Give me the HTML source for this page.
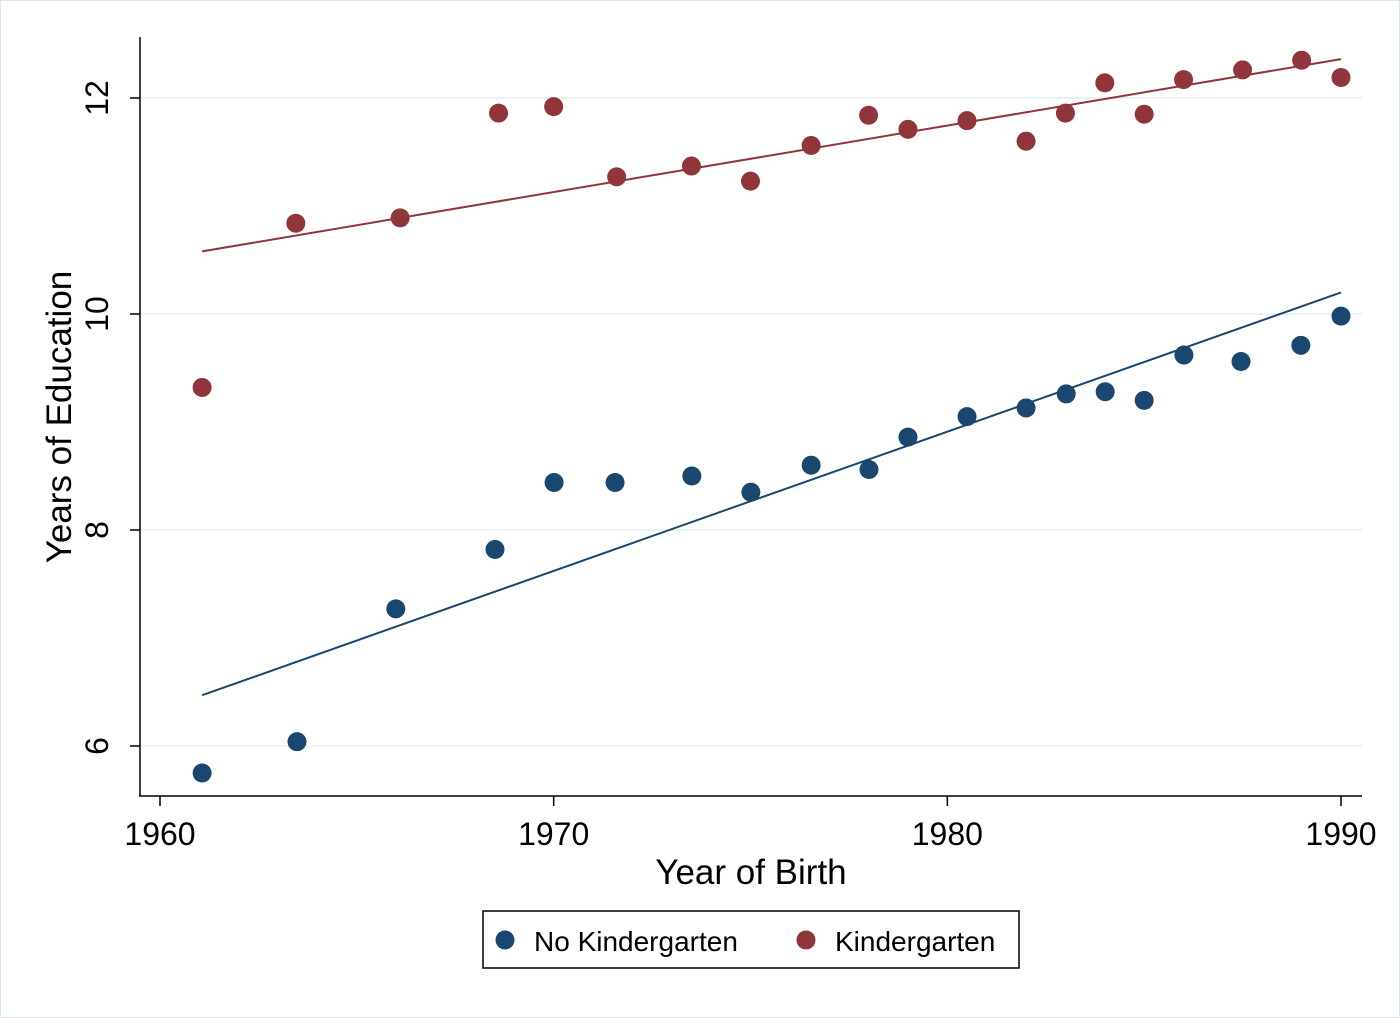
<!DOCTYPE html>
<html><head><meta charset="utf-8"><style>
body{margin:0;background:#fff}
svg{display:block;font-family:"Liberation Sans",sans-serif}
</style></head><body>
<svg id="chart" width="1400" height="1018" xmlns="http://www.w3.org/2000/svg">
<rect x="0.5" y="0.5" width="1399" height="1017" fill="#fff" stroke="#dde6ea"/>
<g id="grid"></g><g id="axes"></g><g id="marks"></g>
<g>
<rect x="483" y="911" width="536" height="57" fill="#fff" stroke="#000" stroke-width="1.5"/>
<circle cx="505" cy="940" r="9.5" fill="#1a476f"/>
<text x="534" y="951" font-size="28">No Kindergarten</text>
<circle cx="806" cy="940" r="9.5" fill="#90353b"/>
<text x="835" y="951" font-size="28">Kindergarten</text>
</g>
</svg>
<script>
const years=[1961.07,1963.48,1965.99,1968.51,1970.01,1971.56,1973.51,1975.01,1976.54,1978.01,1979.0,1980.5,1982.0,1983.02,1984.01,1985.0,1986.01,1987.46,1988.98,1990.0];
const yearsK=[1961.07,1963.45,1966.1,1968.6,1970.0,1971.6,1973.5,1975.0,1976.54,1978.0,1979.0,1980.5,1982.0,1983.0,1984.0,1985.0,1986.0,1987.5,1989.0,1990.0];
const noKinder=[5.75,6.04,7.27,7.82,8.44,8.44,8.50,8.35,8.60,8.56,8.86,9.05,9.13,9.26,9.28,9.20,9.62,9.56,9.71,9.98];
const kinder=[9.32,10.84,10.89,11.86,11.92,11.27,11.37,11.23,11.56,11.84,11.71,11.79,11.60,11.86,12.14,11.85,12.17,12.26,12.35,12.19];
const fitX=[1961.07,1990.0];
const fitNoKinder=[6.47,10.20];
const fitKinder=[10.58,12.36];
const xTicks=[1960,1970,1980,1990];
const yTicks=[6,8,10,12];
const NS="http://www.w3.org/2000/svg";
const X=v=>160+(v-1960)*(1181/30);
const Y=v=>98+(12-v)*108;
function mk(p,tag,attrs){const e=document.createElementNS(NS,tag);for(const k in attrs)e.setAttribute(k,attrs[k]);document.getElementById(p).appendChild(e);return e;}
yTicks.forEach(t=>{
 const g=mk('grid','line',{x1:140,x2:1362,y1:Y(t),y2:Y(t),stroke:'#eaf2f3','stroke-width':2});
 
 
 const tk=mk('axes','line',{x1:130,x2:140,y1:Y(t),y2:Y(t),stroke:'#000','stroke-width':1.5});
 
 
 const lb=mk('axes','text',{x:0,y:0,'font-size':32,'text-anchor':'middle',transform:`translate(108,${Y(t)}) rotate(-90)`});
 lb.textContent=t;
 
 
});
xTicks.forEach(t=>{
 const tk=mk('axes','line',{x1:X(t),x2:X(t),y1:796,y2:806,stroke:'#000','stroke-width':1.5});
 
 
 const lb=mk('axes','text',{x:X(t),y:845,'font-size':32,'text-anchor':'middle'});
 lb.textContent=t;
 
 
});
let a=mk('axes','line',{x1:140,x2:140,y1:37,y2:796,stroke:'#000','stroke-width':1.5});


a=mk('axes','line',{x1:139,x2:1362,y1:796,y2:796,stroke:'#000','stroke-width':1.5});


let tt=mk('axes','text',{x:751,y:884,'font-size':35,'text-anchor':'middle'});
tt.textContent='Year of Birth';


tt=mk('axes','text',{x:0,y:0,'font-size':35,'text-anchor':'middle',transform:'translate(71,417) rotate(-90)'});
tt.textContent='Years of Education';


let f=mk('marks','line',{x1:X(fitX[0]),x2:X(fitX[1]),y1:Y(fitNoKinder[0]),y2:Y(fitNoKinder[1]),stroke:'#1a476f','stroke-width':2});


f=mk('marks','line',{x1:X(fitX[0]),x2:X(fitX[1]),y1:Y(fitKinder[0]),y2:Y(fitKinder[1]),stroke:'#90353b','stroke-width':2});


noKinder.forEach((v,i)=>{
 const c=mk('marks','circle',{cx:X(years[i]),cy:Y(v),r:9.5,fill:'#1a476f'});
 
 
});
kinder.forEach((v,i)=>{
 const c=mk('marks','circle',{cx:X(yearsK[i]),cy:Y(v),r:9.5,fill:'#90353b'});
 
 
});
</script>
</body></html>
